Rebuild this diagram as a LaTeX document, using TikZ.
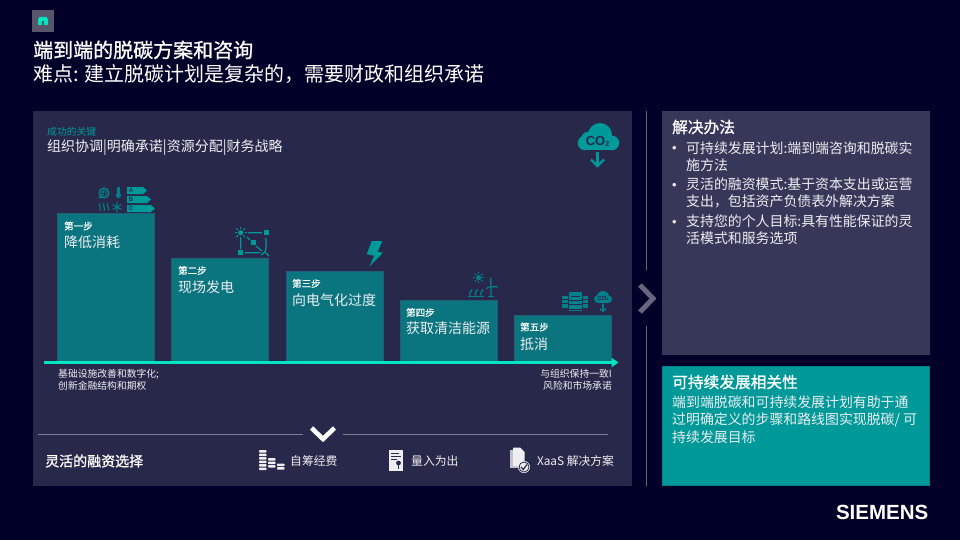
\documentclass[tikz,border=0pt]{standalone}
\usepackage{fontspec}
\setmainfont{Noto Sans CJK SC}
\newfontfamily\logofont{Liberation Sans}
\newfontfamily\meiofont[FakeBold=1]{Noto Sans CJK SC}
\usetikzlibrary{arrows.meta}
\definecolor{fundo}{HTML}{000028}
\definecolor{painel}{HTML}{28284A}
\definecolor{painelb}{HTML}{37375A}
\definecolor{barra}{HTML}{0A757F}
\definecolor{bordab}{HTML}{1F5F78}
\definecolor{petrol}{HTML}{009999}
\definecolor{petrolb}{HTML}{00808A}
\definecolor{seta}{HTML}{00E6C3}
\definecolor{cinza}{HTML}{66667E}
\definecolor{texto}{HTML}{EEEEF2}
\begin{document}
\begin{tikzpicture}[x=1pt,y=-1pt]
\tikzstyle{txt}=[anchor=west, inner sep=0, text=texto, font=\fontsize{14}{16}\selectfont]
\tikzstyle{corpo}=[txt, font=\fontsize{13.9}{16}\selectfont]
\tikzstyle{titulo}=[txt, text=white, font=\fontsize{20}{22}\selectfont]
\tikzstyle{forte}=[txt, text=white, font=\meiofont\fontsize{15.7}{18}\selectfont]
\tikzstyle{passo}=[txt, text=white, font=\meiofont\fontsize{9.5}{11}\selectfont]
\tikzstyle{nota}=[txt, font=\fontsize{9.8}{11}\selectfont]
\tikzstyle{notad}=[nota, anchor=east]
\tikzstyle{opcao}=[txt, font=\fontsize{11.8}{14}\selectfont]
\tikzstyle{marca}=[anchor=base west, inner sep=0, text=texto, font=\logofont\fontsize{13}{14}\selectfont]
\tikzstyle{barrap}=[anchor=north west, inner sep=0, minimum width=97pt, draw=bordab, fill=barra, line width=.6pt]
\tikzstyle{icone}=[fill=petrolb, draw=none]
\tikzstyle{iconeb}=[fill=petrol, draw=none]
\tikzstyle{linha}=[draw=cinza, line width=1pt]
\tikzstyle{moeda}=[fill=texto, rounded corners=.8pt]
\useasboundingbox(0,0)rectangle(960,540);
\fill[fundo](0,0)rectangle(960,540);
% cabecalho
\fill[cinza!85!black](32,10)rectangle(54,32);
\fill[seta](38,19.5)--(39.5,17)--(46.5,17)--(48,19.5)--(48,25)--(38,25)--cycle;
\fill[cinza!85!black](42,21.5)rectangle(44,25);
\node[titulo, font=\meiofont\fontsize{20}{22}\selectfont](tit1)at(33,50){端到端的脱碳方案和咨询};
\node[titulo](tit2)at(33,74){难点: 建立脱碳计划是复杂的，需要财政和组织承诺};
% paineis
\fill[painel](33,111)rectangle(632,486);
\fill[painelb](662,111)rectangle(930,355);
\draw[draw=petrolb, fill=petrol, line width=.8pt](662.5,366.5)rectangle(929.5,485);
% separador
\coordinate(sep1)at(646,111);
\coordinate(sep2)at(646,270);
\coordinate(sep3)at(646,326);
\coordinate(sep4)at(646,486);
\draw[linha](sep1)--(sep2);
\draw[linha](sep3)--(sep4);
\draw[cinza, line width=5pt](640,285)--(653,298.5)--(640,312);
% chaves do sucesso
\node[txt, text=petrol, font=\fontsize{9.8}{11}\selectfont](chave)at(47,131.5){成功的关键};
\node[txt](lista)at(47,148){组织协调|明确承诺|资源分配|财务战略};
% nuvem
\fill[iconeb](600,135)circle(12);
\fill[iconeb](589,139.5)circle(8);
\fill[iconeb](585,143)circle(7.3);
\fill[iconeb](612,143)circle(7.3);
\fill[iconeb](585,138)rectangle(612,150.3);
\node[inner sep=0, text=painel, font=\logofont\fontsize{13}{14}\selectfont\bfseries](co)at(597.5,141.5){CO\raisebox{-1pt}{\fontsize{7}{8}\selectfont\bfseries 2}};
\draw[petrol, line width=2.4pt](597.5,152)--(597.5,167);
\draw[petrol, line width=2.4pt](591,159.5)--(597.5,166)--(604,159.5);
% degraus
\node[barrap, minimum height=148.5pt](bar1)at(57,213){};
\node[barrap, minimum height=103.5pt](bar2)at(171,258){};
\node[barrap, minimum height=90.5pt](bar3)at(285.5,271){};
\node[barrap, minimum height=61.5pt](bar4)at(399.5,300){};
\node[barrap, minimum height=46.5pt](bar5)at(514,315){};
\node[passo](p1)at(64,226){第一步};
\node[txt](t1)at(64,242){降低消耗};
\node[passo](p2)at(178,270.5){第二步};
\node[txt](t2)at(178,287){现场发电};
\node[passo](p3)at(292,283.5){第三步};
\node[txt](t3)at(292,300){向电气化过度};
\node[passo](p4)at(406,312.5){第四步};
\node[txt](t4)at(406,328.5){获取清洁能源};
\node[passo](p5)at(520,327){第五步};
\node[txt](t5)at(520,344){抵消};
\coordinate(ini)at(44,362.5);
\coordinate(fim)at(618.5,362.5);
\draw[-{Triangle[length=7pt,width=9pt]}, seta, line width=3pt](ini)--(fim);
\node[nota](n1)at(58,374){基础设施改善和数字化;};
\node[nota](n2)at(58,386){创新金融结构和期权};
\node[notad](n3)at(612,374){与组织保持一致I};
\node[notad](n4)at(612,386){风险和市场承诺};
% icone passo 1
\fill[icone](104,193)circle(5.6);
\fill[icone](98,198)--(104,198)--(104,192)--cycle;
\draw[painel, line width=.7pt](104,193)circle(3.4);
\draw[painel, line width=.6pt](101.5,193)--(106.5,193)(104,190.5)--(104,195.5);
\fill[icone](117,187)rectangle(120,195);
\fill[icone](118.5,195.5)circle(2.6);
\draw[petrolb, line width=1pt](100,203) .. controls (98,205.5) and (102,208) .. (100,211);
\draw[petrolb, line width=1pt](104,203) .. controls (102,205.5) and (106,208) .. (104,211);
\draw[petrolb, line width=1pt](108,203) .. controls (106,205.5) and (110,208) .. (108,211);
\draw[petrolb, line width=1.1pt](117,202)--(117,212)(112.7,204.5)--(121.3,209.5)(112.7,209.5)--(121.3,204.5);
\fill[iconeb](127,187)--(143,187)--(147,190.5)--(143,194)--(127,194)--cycle;
\fill[iconeb](127,196)--(147,196)--(151,199.5)--(147,203)--(127,203)--cycle;
\fill[iconeb](127,205)--(151,205)--(155,208.5)--(151,212)--(127,212)--cycle;
\node[inner sep=0, text=painel, font=\logofont\fontsize{6}{7}\selectfont\bfseries](ia)at(131,190.5){A};
\node[inner sep=0, text=painel, font=\logofont\fontsize{6}{7}\selectfont\bfseries](ib)at(131,199.5){B};
\node[inner sep=0, text=painel, font=\logofont\fontsize{6}{7}\selectfont\bfseries](ic)at(131,208.5){C};
% icone passo 2
\fill[iconeb](240.7,232.7)circle(2.6);
\foreach \a in {0,45,...,315}{\draw[petrol, line width=1pt](240.7,232.7)++(\a:3.8)--++(\a:2.4);}
\fill[iconeb](263.5,230.2)rectangle(268.5,235.2);
\fill[iconeb](238.2,250.2)rectangle(243.2,255.2);
\fill[iconeb](250.5,240.2)rectangle(255.5,245.2);
\draw[petrol, line width=1.2pt](248,232.7)--(262,232.7)(240.7,238)--(240.7,249)(245,252.7)--(260,252.7)(247,237)--(250,240)(256,246)--(262,251)(266,238)--(266,246);
\draw[petrol, line width=1.2pt](266.5,246)--(265,252)--(269,256)(265,252)--(261,255);
% raio
\fill[iconeb](371.7,241)--(382.3,241)--(377.7,251.7)--(383,252.7)--(369.3,266.7)--(374.3,255.7)--(366.7,254.3)--cycle;
% icone passo 4
\fill[icone](478.7,277.7)circle(2.6);
\foreach \a in {0,45,...,315}{\draw[petrolb, line width=1pt](478.7,277.7)++(\a:3.4)--++(\a:2);}
\draw[petrolb, line width=1.2pt](468,296.5)--(484,296.5);
\foreach \x in {470,475.5,481}{\draw[petrolb, line width=1.4pt](\x,295.5)--(\x,292.5)--(\x+2,289.5);}
\draw[petrolb, line width=1.3pt](491,296.7)--(491,286.7)(491,286.7)--(490.7,277.7)(491,286.7)--(486,288.5)(491,286.7)--(497.7,286.9);
\draw[petrolb, line width=1.1pt](488,296.8)--(494,296.8);
% icone passo 5
\fill[icone](569,292)rectangle(581.7,309);
\fill[icone](562,295.7)rectangle(568,307.7);
\fill[icone](582.7,295.7)rectangle(588,307.7);
\draw[painel, line width=.7pt](562,299.5)--(568,299.5)(562,303.5)--(568,303.5)(582.7,299.5)--(588,299.5)(582.7,303.5)--(588,303.5)(571,296)--(579.5,296)(569,300)--(581.7,300)(569,304.5)--(581.7,304.5);
\draw[petrolb, line width=1pt](569,310.5)--(581.7,310.5);
\fill[icone](597,298)rectangle(609,302.8);
\fill[icone](597.8,299)circle(3.8);
\fill[icone](603,297.2)circle(6.2);
\fill[icone](608.5,299.2)circle(3.6);
\node[inner sep=0, text=painel, font=\logofont\fontsize{6}{7}\selectfont\bfseries](cob)at(603,298.5){CO\raisebox{-.5pt}{\fontsize{3.5}{4}\selectfont 2}};
\draw[petrolb, line width=1.1pt](603,303.5)--(603,311);
\draw[petrolb, line width=1.1pt](600,308.5)--(603,311.5)--(606,308.5);
% financiamento
\coordinate(l1)at(38,434.5);
\coordinate(l2)at(303,434.5);
\coordinate(l3)at(343,434.5);
\coordinate(l4)at(608,434.5);
\draw[draw=cinza!85!white, line width=.9pt](l1)--(l2);
\draw[draw=cinza!85!white, line width=.9pt](l3)--(l4);
\draw[white, line width=4.6pt](311.5,428)--(323,439)--(334.5,428);
\node[forte, font=\meiofont\fontsize{14}{16}\selectfont](flex)at(45,461){灵活的融资选择};
\foreach \y in {450,453.5,...,468}{\fill[moeda](259,\y)rectangle++(7.5,2.6);}
\foreach \y in {458,461.5,...,468}{\fill[moeda](268,\y)rectangle++(7.5,2.6);}
\foreach \y in {463.5,467}{\fill[moeda](277,\y)rectangle++(7.5,2.6);}
\node[opcao](o1)at(290,461){自筹经费};
\fill[texto](389,449.5)rectangle(403,471);
\draw[painel, line width=1pt](391,453)--(399,453)(391,456)--(401,456)(391,459)--(397,459);
\fill[painel](398.5,463)circle(2.4);
\draw[painel, line width=1.2pt](398.5,464)--(398.5,469);
\node[opcao](o2)at(411,461){量入为出};
\fill[cinza!40!white](510,450)rectangle(520,468);
\fill[texto](513,447.5)--(520,447.5)--(524.5,452)--(524.5,466)--(513,466)--cycle;
\fill[texto](524,467)circle(6);
\draw[painel, line width=.8pt](524,467)circle(5);
\draw[painel, line width=1.2pt](521,467)--(523.3,469.5)--(527,464.5);
\node[opcao](o3)at(537,461){XaaS 解决方案};
% painel solucao
\node[forte](sol)at(672,127){解决办法};
\node[marca](b1)at(672,153){•};
\node[corpo](s1)at(686,148){可持续发展计划:端到端咨询和脱碳实};
\node[corpo](s1b)at(686,165){施方法};
\node[marca](b2)at(672,189.5){•};
\node[corpo](s2)at(686,184.5){灵活的融资模式:基于资本支出或运营};
\node[corpo](s2b)at(686,201.5){支出，包括资产负债表外解决方案};
\node[marca](b3)at(672,226){•};
\node[corpo](s3)at(686,221){支持您的个人目标:具有性能保证的灵};
\node[corpo](s3b)at(686,238){活模式和服务选项};
% painel relevancia
\node[forte](rel)at(672,382){可持续发展相关性};
\node[corpo](r1)at(672,402.5){端到端脱碳和可持续发展计划有助于通};
\node[corpo](r2)at(672,420){过明确定义的步骤和路线图实现脱碳/ 可};
\node[corpo](r3)at(672,437){持续发展目标};
% logo
\node[anchor=east, inner sep=0, text=white, font=\logofont\fontsize{20.5}{22}\selectfont\bfseries](logo)at(928.5,512.5){SIEMENS};
\end{tikzpicture}
\end{document}
